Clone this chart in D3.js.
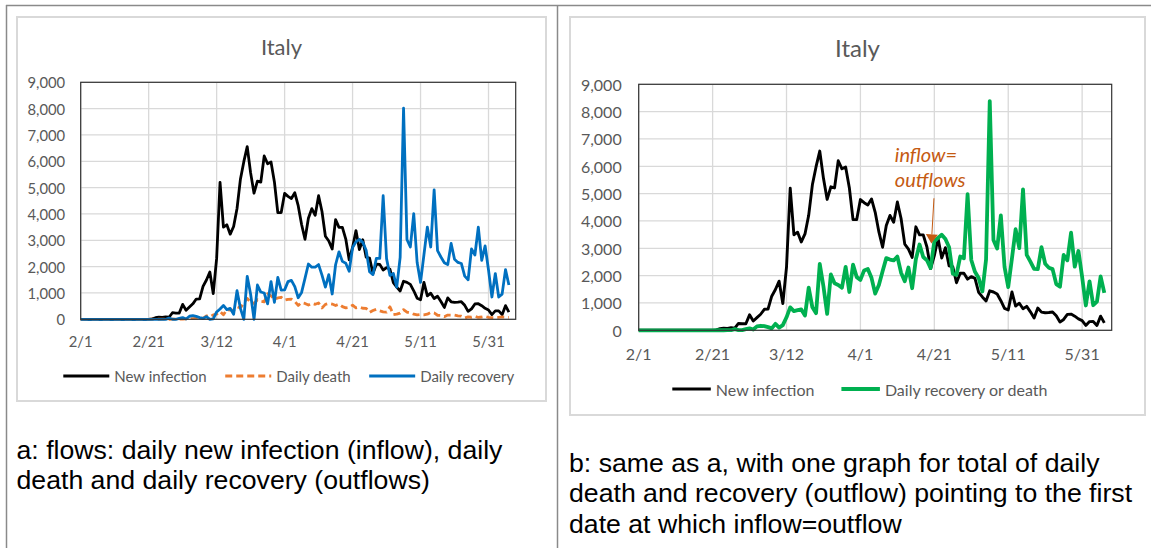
<!DOCTYPE html>
<html>
<head>
<meta charset="utf-8">
<script src="https://cdn.jsdelivr.net/npm/d3@7"></script>
<style>
  body { margin: 0; background: #fff; }
  svg { display: block; }
  .caption { font-family: "Liberation Sans", Arial, sans-serif; font-size: 26.67px; fill: #000; }
</style>
</head>
<body>
<svg class="page" width="1151" height="548"></svg>
<script>
// day 0 = 2/1 (2020), one value per day up to 6/6
const dayTicks = [0, 20, 40, 60, 80, 100, 120];
const dayLabels = ['2/1', '2/21', '3/12', '4/1', '4/21', '5/11', '5/31'];
const yTicks = [0, 1000, 2000, 3000, 4000, 5000, 6000, 7000, 8000, 9000];

const newInfection = [
  0, 0, 0, 0, 0, 0, 0, 0, 0, 0,
  0, 0, 0, 0, 0, 0, 0, 0, 0, 0,
  0, 17, 59, 78, 72, 93, 78, 250, 238, 240,
  566, 342, 466, 587, 769, 778, 1247, 1492, 1797, 977,
  2313, 5198, 3497, 3590, 3233, 3526, 4207, 5322, 5986, 6557,
  5560, 4789, 5249, 5210, 6203, 5909, 5974, 5217, 4050, 4053,
  4782, 4668, 4585, 4805, 4316, 3599, 3039, 3836, 4204, 3951,
  4694, 4092, 3153, 2972, 2667, 3786, 3493, 3491, 3047, 2256,
  2729, 3370, 2646, 3021, 2357, 2324, 1739, 2091, 2086, 1872,
  1965, 1900, 1389, 1221, 1075, 1444, 1401, 1327, 1083, 802,
  744, 1402, 888, 992, 789, 875, 675, 451, 813, 665,
  642, 652, 669, 531, 300, 397, 584, 593, 516, 416,
  355, 178, 318, 321, 177, 518, 270
];

const dailyDeath = [
  0, 0, 0, 0, 0, 0, 0, 0, 0, 0,
  0, 0, 0, 0, 0, 0, 0, 0, 0, 0,
  0, 1, 1, 1, 4, 3, 2, 5, 4, 8,
  5, 18, 27, 28, 41, 49, 36, 133, 97, 168,
  196, 300, 175, 368, 349, 345, 475, 427, 627, 793,
  651, 601, 743, 683, 662, 969, 889, 756, 812, 837,
  727, 760, 766, 681, 525, 636, 604, 542, 610, 570,
  619, 431, 566, 602, 578, 525, 575, 482, 433, 454,
  534, 437, 464, 420, 415, 260, 333, 382, 323, 285,
  269, 474, 174, 195, 236, 369, 274, 243, 194, 165,
  179, 172, 195, 262, 242, 153, 145, 99, 162, 161,
  156, 130, 119, 50, 92, 78, 117, 70, 87, 111,
  75, 60, 55, 71, 88, 85, 72
];

const dailyRecovery = [
  0, 0, 0, 0, 0, 0, 0, 0, 0, 0,
  0, 0, 0, 0, 0, 0, 0, 0, 0, 0,
  0, 0, 0, 0, 0, 0, 42, 1, 0, 37,
  66, 11, 116, 138, 109, 66, 33, 102, 0, 20,
  280, 394, 527, 369, 414, 192, 1084, 415, 0, 1632,
  952, 0, 1302, 1036, 999, 589, 1434, 646, 1590, 1109,
  1118, 1431, 1480, 1238, 819, 1022, 1555, 2099, 1979, 1985,
  2079, 1677, 1224, 1695, 962, 2072, 2563, 2200, 2128, 1822,
  2723, 2943, 3033, 2922, 2622, 1808, 1696, 2317, 2311, 4693,
  2304, 1665, 1740, 1225, 2352, 8014, 3031, 2747, 4008, 2155,
  1401, 2452, 3502, 2747, 4917, 2605, 2366, 2150, 2075, 2881,
  2278, 2160, 2120, 1639, 1502, 2677, 2443, 3503, 2240, 2789,
  1874, 848, 1737, 846, 957, 1886, 1300
];

const dailyRecoveryOrDeath = [
  0, 0, 0, 0, 0, 0, 0, 0, 0, 0,
  0, 0, 0, 0, 0, 0, 0, 0, 0, 0,
  0, 1, 1, 1, 4, 3, 44, 6, 4, 45,
  71, 29, 143, 166, 150, 115, 69, 235, 97, 188,
  476, 840, 702, 737, 763, 537, 1559, 842, 627, 2425,
  1603, 601, 2045, 1719, 1661, 1558, 2323, 1402, 2402, 1946,
  1845, 2191, 2246, 1919, 1344, 1658, 2159, 2641, 2589, 2555,
  2698, 2108, 1790, 2297, 1540, 2597, 3138, 2682, 2561, 2276,
  3257, 3380, 3497, 3342, 3037, 2068, 2029, 2699, 2634, 4978,
  2573, 2139, 1914, 1420, 2588, 8383, 3305, 2990, 4202, 2320,
  1580, 2624, 3697, 3009, 5159, 2758, 2511, 2249, 2237, 3042,
  2434, 2290, 2239, 1689, 1594, 2755, 2560, 3573, 2327, 2900,
  1949, 908, 1792, 917, 1045, 1971, 1372
];

const captionA = ['a: flows: daily new infection (inflow), daily',
                  'death and daily recovery (outflows)'];
const captionB = ['b: same as a, with one graph for total of daily',
                  'death and recovery (outflow) pointing to the first',
                  'date at which inflow=outflow'];

const svg = d3.select('svg.page');
const font = 'Lato, "Open Sans", sans-serif';
const grey = '#595959';

//Table lines around the two cells
svg.append('line').attr('x1', 6).attr('x2', 1151).attr('y1', 5.5).attr('y2', 5.5)
  .attr('stroke', '#8a8a8a').attr('stroke-width', 1.5);
svg.append('line').attr('x1', 6.5).attr('x2', 6.5).attr('y1', 5).attr('y2', 548)
  .attr('stroke', '#8a8a8a').attr('stroke-width', 1.5);
svg.append('line').attr('x1', 557.5).attr('x2', 557.5).attr('y1', 5).attr('y2', 548)
  .attr('stroke', '#8a8a8a').attr('stroke-width', 1.5);

const panels = [
  {
    box: { x: 17, y: 17, w: 529, h: 384 },
    plot: { x0: 80.7, x1: 515.7, y0: 319.3, y1: 82.3 },
    titleY: 46, titleSize: 22, tickSize: 14.8, yLabelGap: 15.5, xLabelY: 341,
    legendX: 63.3, legendY: 376, legendSize: 15, legendLine: 46, legendGap: 18.5,
    series: [
      { name: 'New infection', values: newInfection, color: '#000', width: 2.8 },
      { name: 'Daily death', values: dailyDeath, color: '#ED7D31', width: 2.8, dash: '7,4' },
      { name: 'Daily recovery', values: dailyRecovery, color: '#0070C0', width: 2.8 },
    ],
  },
  {
    box: { x: 570, y: 17, w: 575, h: 398 },
    plot: { x0: 638.7, x1: 1111.7, y0: 330.3, y1: 84.3 },
    titleY: 47.5, titleSize: 24, tickSize: 16, yLabelGap: 17, xLabelY: 353,
    legendX: 672.3, legendY: 389, legendSize: 16, legendLine: 38.5, legendGap: 27,
    series: [
      { name: 'New infection', values: newInfection, color: '#000', width: 2.9 },
      { name: 'Daily recovery or death', values: dailyRecoveryOrDeath, color: '#00B050', width: 3.8 },
    ],
    note: { lines: ['inflow=', 'outflows'], day: 69.3, value: 6170, lineStep: 25,
            arrowFrom: [79.9, 4830], arrowTo: [79.2, 3180] },
  },
];

panels.forEach(drawPanel);

function drawPanel(p) {
  const g = svg.append('g');

  //Chart area box
  g.append('rect')
    .attr('x', p.box.x).attr('y', p.box.y)
    .attr('width', p.box.w).attr('height', p.box.h)
    .attr('fill', '#fff').attr('stroke', '#d9d9d9').attr('stroke-width', 2);

  g.append('text')
    .attr('x', p.box.x + p.box.w / 2).attr('y', p.titleY)
    .attr('text-anchor', 'middle').attr('dominant-baseline', 'central')
    .style('font-family', font).style('font-size', p.titleSize + 'px').attr('fill', grey)
    .text('Italy');

  const x = d3.scaleLinear().domain([0, 128]).range([p.plot.x0, p.plot.x1]);
  const y = d3.scaleLinear().domain([0, 9000]).range([p.plot.y0, p.plot.y1]);

  //Gridlines
  g.selectAll('.hgrid').data(yTicks).enter().append('line')
    .attr('x1', p.plot.x0).attr('x2', p.plot.x1)
    .attr('y1', d => y(d)).attr('y2', d => y(d))
    .attr('stroke', '#d9d9d9').attr('stroke-width', 1.3);
  g.selectAll('.vgrid').data(dayTicks).enter().append('line')
    .attr('x1', d => x(d)).attr('x2', d => x(d))
    .attr('y1', p.plot.y0).attr('y2', p.plot.y1)
    .attr('stroke', '#d9d9d9').attr('stroke-width', 1.3);

  //Tick labels
  g.selectAll('.ylab').data(yTicks).enter().append('text')
    .attr('x', p.plot.x0 - p.yLabelGap).attr('y', d => y(d))
    .attr('text-anchor', 'end').attr('dominant-baseline', 'central')
    .style('font-family', font).style('font-size', p.tickSize + 'px').attr('fill', grey)
    .text(d3.format(','));
  g.selectAll('.xlab').data(dayTicks).enter().append('text')
    .attr('x', d => x(d)).attr('y', p.xLabelY)
    .attr('text-anchor', 'middle').attr('dominant-baseline', 'central')
    .style('font-family', font).style('font-size', p.tickSize + 'px').attr('fill', grey)
    .text((d, i) => dayLabels[i]);

  //Series lines
  const line = d3.line().x((d, i) => x(i)).y(d => y(d));
  p.series.forEach(s => {
    g.append('path')
      .attr('d', line(s.values))
      .attr('fill', 'none').attr('stroke', s.color).attr('stroke-width', s.width)
      .attr('stroke-linejoin', 'round')
      .attr('stroke-dasharray', s.dash || null);
  });

  //Plot frame
  g.append('rect')
    .attr('x', p.plot.x0).attr('y', p.plot.y1)
    .attr('width', p.plot.x1 - p.plot.x0).attr('height', p.plot.y0 - p.plot.y1)
    .attr('fill', 'none').attr('stroke', '#333').attr('stroke-width', 1.2);

  //Legend
  let lx = p.legendX;
  p.series.forEach(s => {
    g.append('line')
      .attr('x1', lx).attr('x2', lx + p.legendLine)
      .attr('y1', p.legendY).attr('y2', p.legendY)
      .attr('stroke', s.color).attr('stroke-width', s.width)
      .attr('stroke-dasharray', s.dash || null);
    const t = g.append('text')
      .attr('x', lx + p.legendLine + 5).attr('y', p.legendY)
      .attr('dominant-baseline', 'central')
      .style('font-family', font).style('font-size', p.legendSize + 'px').attr('fill', grey)
      .text(s.name);
    lx += p.legendLine + 5 + t.node().getComputedTextLength() + p.legendGap;
  });

  //Annotation with arrow
  if (p.note) {
    const n = p.note;
    const c = '#C55A11';
    n.lines.forEach((txt, i) => {
      g.append('text')
        .attr('x', x(n.day)).attr('y', y(n.value) + i * n.lineStep)
        .style('font-family', font).style('font-style', 'italic')
        .style('font-size', '20px').attr('fill', c)
        .text(txt);
    });
    const [fx, fy] = [x(n.arrowFrom[0]), y(n.arrowFrom[1])];
    const [tx, ty] = [x(n.arrowTo[0]), y(n.arrowTo[1])];
    const ang = Math.atan2(ty - fy, tx - fx);
    const headLen = 9, headHalf = 6;
    const bx = tx - headLen * Math.cos(ang), by = ty - headLen * Math.sin(ang);
    g.append('line')
      .attr('x1', fx).attr('y1', fy).attr('x2', bx).attr('y2', by)
      .attr('stroke', c).attr('stroke-width', 1);
    g.append('path')
      .attr('d', d3.line()([
        [tx, ty],
        [bx + headHalf * Math.sin(ang), by - headHalf * Math.cos(ang)],
        [bx - headHalf * Math.sin(ang), by + headHalf * Math.cos(ang)],
      ]) + 'Z')
      .attr('fill', c);
  }
}

//Captions under each chart
function drawCaption(lines, x0, y0) {
  svg.selectAll(null).data(lines).enter().append('text')
    .attr('class', 'caption')
    .attr('x', x0).attr('y', (d, i) => y0 + i * 30.5)
    .text(d => d);
}
drawCaption(captionA, 16.5, 458.5);
drawCaption(captionB, 569, 471.5);
</script>
</body>
</html>
